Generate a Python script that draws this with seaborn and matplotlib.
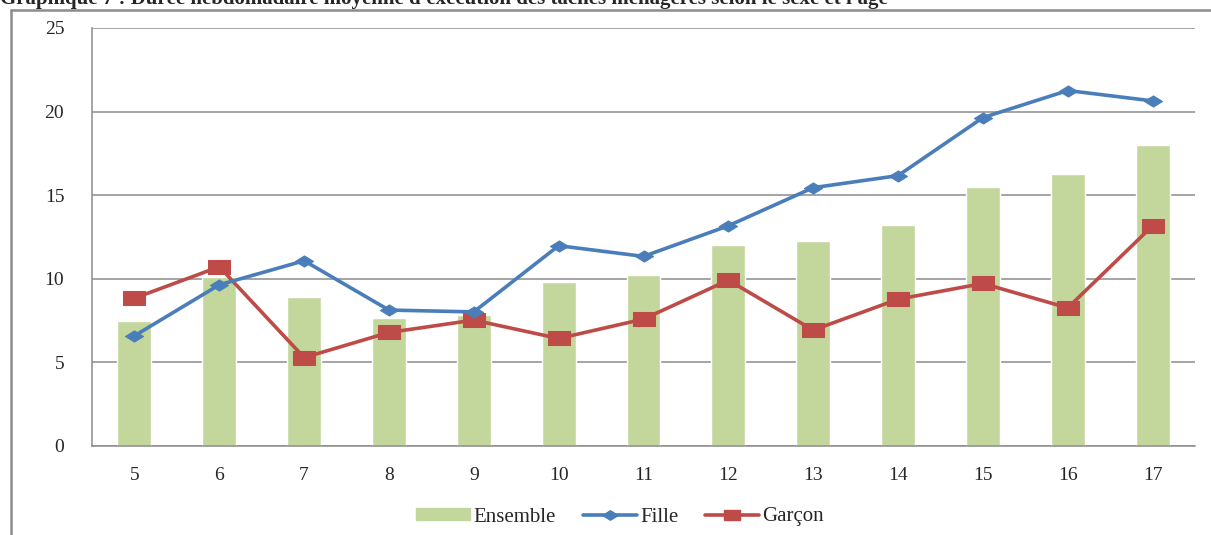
import numpy as np
import pandas as pd
import matplotlib
matplotlib.use("Agg")
import matplotlib.pyplot as plt
import seaborn as sns
from matplotlib.lines import Line2D
from matplotlib.patches import Patch

# Données
ages = ["5", "6", "7", "8", "9", "10", "11", "12", "13", "14", "15", "16", "17"]
ensemble = [7.45, 10.08, 8.94, 7.65, 7.81, 9.78, 10.2, 12.02, 12.26, 13.2, 15.47, 16.25, 18.0]
fille = [6.59, 9.64, 11.08, 8.13, 8.02, 11.98, 11.34, 13.17, 15.45, 16.17, 19.64, 21.26, 20.64]
garcon = [8.84, 10.72, 5.29, 6.79, 7.53, 6.43, 7.59, 9.92, 6.93, 8.78, 9.72, 8.26, 13.17]
yticks = [0, 5, 10, 15, 20, 25]
titre = "Graphique 7 : Durée hebdomadaire moyenne d'exécution des tâches ménagères selon le sexe et l'âge"

vert = "#C3D69B"
bleu = "#4A7EBB"
rouge = "#BE4B48"
gris = "#8C8C8C"

sns.set_style("white")
plt.rcParams["font.family"] = ["Liberation Serif", "DejaVu Serif"]

df = pd.DataFrame({"age": ages, "Ensemble": ensemble, "Fille": fille, "Garçon": garcon})
pos = np.arange(len(ages))

fig = plt.figure(figsize=(12.11, 5.35), dpi=100)
ax = fig.add_axes([92 / 1211, 1 - 446 / 535, (1195 - 92) / 1211, (446 - 28) / 535])

sns.barplot(data=df, x="age", y="Ensemble", color=vert, width=0.4, saturation=1, ax=ax, zorder=2)

# marqueurs un peu aplatis comme sur l'original
losange = [(-1, 0), (0, 0.62), (1, 0), (0, -0.62), (-1, 0)]
carre = [(-1, -0.64), (1, -0.64), (1, 0.64), (-1, 0.64), (-1, -0.64)]
sns.lineplot(x=pos, y=fille, color=bleu, lw=2.6, marker=losange, ms=13,
             mec=bleu, mfc=bleu, ax=ax, zorder=4)
sns.lineplot(x=pos, y=garcon, color=rouge, lw=2.6, marker=carre, ms=15.5,
             mec=rouge, mfc=rouge, ax=ax, zorder=3)

ax.set_xlim(-0.5, len(ages) - 0.5)
ax.set_ylim(0, 25)
ax.set_yticks(yticks)
ax.set_xlabel("")
ax.set_ylabel("")
ax.yaxis.grid(True, color=gris, lw=1.1, zorder=0)
ax.set_axisbelow(True)
for s in ["top", "right"]:
    ax.spines[s].set_visible(False)
for s in ["left", "bottom"]:
    ax.spines[s].set_color(gris)
    ax.spines[s].set_linewidth(1.1)

ax.tick_params(axis="y", length=7, color=gris, width=1.1, pad=13, labelsize=14)
ax.set_xticks(np.arange(-0.5, len(ages), 1), minor=True)
ax.tick_params(axis="x", which="major", length=0, pad=15, labelsize=14)
ax.tick_params(axis="x", which="minor", length=5, color=gris, width=1.1)

handles = [
    Patch(facecolor=vert, edgecolor=vert),
    Line2D([], [], color=bleu, lw=2.6, marker=losange, ms=11),
    Line2D([], [], color=rouge, lw=2.6, marker=carre, ms=12),
]
fig.legend(handles, ["Ensemble", "Fille", "Garçon"], loc="center",
           bbox_to_anchor=(620 / 1211, 1 - 517 / 535), ncol=3, frameon=False,
           fontsize=15, handlelength=2.6, handleheight=0.45, handletextpad=0.15,
           columnspacing=1.3)

# cadre du graphique
fig.add_artist(Line2D([11 / 1211, 11 / 1211], [0, 1 - 10 / 535], color=gris, lw=1.8))
fig.add_artist(Line2D([11 / 1211, 1], [1 - 10 / 535, 1 - 10 / 535], color=gris, lw=1.8))

fig.text(0.0, 1 - 4 / 535, titre, fontsize=15, fontweight="bold", va="baseline", ha="left")

fig.savefig("out.png", dpi=100)
